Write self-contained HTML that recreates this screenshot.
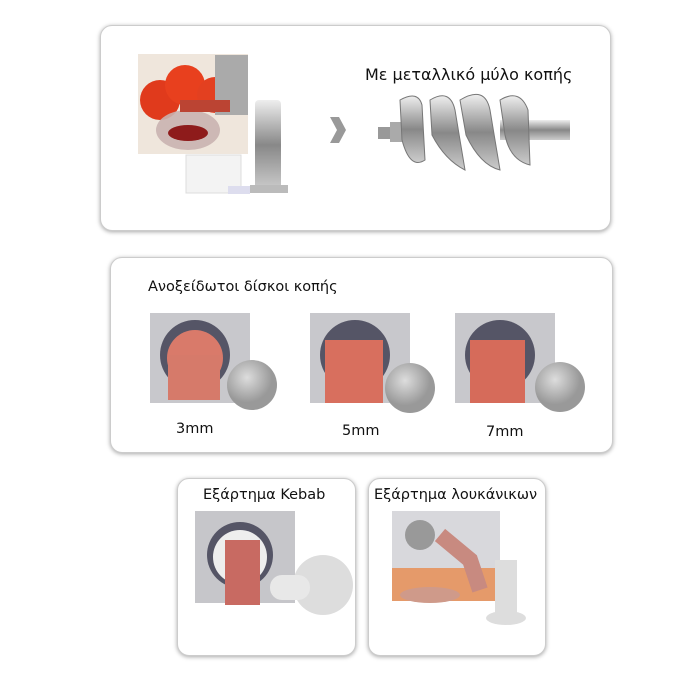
<!DOCTYPE html>
<html><head><meta charset="utf-8"><style>
body{margin:0;width:700px;height:700px;background:#fff;position:relative;overflow:hidden;font-family:"DejaVu Sans","Liberation Sans",sans-serif;color:#111}
.p{position:absolute;background:#fff;border:1px solid #ccc;border-radius:12px;box-shadow:0 1px 4px rgba(0,0,0,.35)}
.t{position:absolute;font-size:14.5px;white-space:nowrap}
svg{position:absolute;left:0;top:0}
</style></head><body>
<div class="p" style="left:100px;top:25px;width:509px;height:204px"></div>
<div class="p" style="left:110px;top:257px;width:501px;height:194px"></div>
<div class="p" style="left:177px;top:478px;width:177px;height:176px"></div>
<div class="p" style="left:368px;top:478px;width:176px;height:176px"></div>
<svg width="700" height="700">
<defs>
<radialGradient id="pl" cx="40%" cy="35%"><stop offset="0" stop-color="#ddd"/><stop offset="1" stop-color="#999"/></radialGradient>
<linearGradient id="st" x1="0" x2="0" y1="0" y2="1"><stop offset="0" stop-color="#eee"/><stop offset=".5" stop-color="#888"/><stop offset="1" stop-color="#ccc"/></linearGradient>
</defs>
<!-- tomato photo -->
<rect x="138" y="54" width="110" height="100" fill="#efe6dc"/>
<circle cx="160" cy="100" r="20" fill="#e03a1c"/><circle cx="185" cy="85" r="20" fill="#e8401e"/><circle cx="215" cy="95" r="18" fill="#e34020"/>
<rect x="215" y="55" width="33" height="60" fill="#aaa"/>
<ellipse cx="188" cy="130" rx="32" ry="20" fill="#c9b2b0" opacity=".9"/>
<ellipse cx="188" cy="133" rx="20" ry="8" fill="#8e1b1b"/>
<rect x="180" y="100" width="50" height="12" fill="#b43" />
<rect x="186" y="155" width="55" height="38" fill="#f3f3f3" stroke="#ddd"/>
<rect x="255" y="100" width="26" height="90" rx="4" fill="url(#st)"/>
<rect x="250" y="185" width="38" height="8" fill="#bbb"/>
<rect x="228" y="186" width="22" height="8" fill="#dde"/>
<!-- chevron -->
<polygon points="330,117 339,117 346,130 339,143 330,143 337,130" fill="#999"/>
<!-- auger -->
<rect x="378" y="127" width="20" height="12" fill="#999"/>
<rect x="390" y="122" width="22" height="20" fill="#aaa"/>
<rect x="500" y="120" width="70" height="20" fill="url(#st)"/>
<g fill="url(#st)" stroke="#777" stroke-width="1">
<path d="M400,100 Q418,90 422,105 L425,160 Q410,170 402,140Z"/>
<path d="M430,100 Q450,88 455,110 L465,170 Q445,160 432,135Z"/>
<path d="M460,100 Q485,85 490,110 L500,170 Q480,165 466,135Z"/>
<path d="M500,100 Q520,88 528,110 L530,165 Q510,160 505,135Z"/>
</g>
<!-- grinder photos -->
<g id="g">
<rect x="150" y="313" width="100" height="90" fill="#c8c8cc"/>
<circle cx="195" cy="355" r="35" fill="#556" /><circle cx="195" cy="358" r="28" fill="#d97a6a"/>
<rect x="168" y="355" width="52" height="45" fill="#d67a6a"/>
<circle cx="252" cy="385" r="25" fill="url(#pl)"/>
</g>
<rect x="310" y="313" width="100" height="90" fill="#c8c8cc"/>
<circle cx="355" cy="355" r="35" fill="#556"/><rect x="325" y="340" width="58" height="63" fill="#d86f5e"/>
<circle cx="410" cy="388" r="25" fill="url(#pl)"/>
<rect x="455" y="313" width="100" height="90" fill="#c8c8cc"/>
<circle cx="500" cy="355" r="35" fill="#556"/><rect x="470" y="340" width="55" height="63" fill="#d66b5a"/>
<circle cx="560" cy="387" r="25" fill="url(#pl)"/>
<!-- kebab -->
<rect x="195" y="511" width="100" height="92" fill="#c6c6ca"/>
<circle cx="240" cy="555" r="33" fill="#556"/><circle cx="240" cy="557" r="27" fill="#eee"/>
<rect x="225" y="540" width="35" height="65" fill="#c86a62"/>
<circle cx="323" cy="585" r="30" fill="#ddd"/><rect x="270" y="575" width="40" height="25" rx="12" fill="#e8e8e8"/>
<!-- sausage -->
<rect x="392" y="511" width="108" height="90" fill="#d8d8dc"/>
<rect x="392" y="568" width="108" height="33" fill="#e59a6a"/>
<circle cx="420" cy="535" r="15" fill="#999"/>
<path d="M440,535 L470,560 L480,590" stroke="#c88a80" stroke-width="16" fill="none"/>
<ellipse cx="430" cy="595" rx="30" ry="8" fill="#cf9a8a"/>
<rect x="495" y="560" width="22" height="55" fill="#ddd"/>
<ellipse cx="506" cy="618" rx="20" ry="7" fill="#ddd"/>
</svg>
<div class="t" style="left:365px;top:65px;font-size:16px">Με μεταλλικό μύλο κοπής</div>
<div class="t" style="left:148px;top:279px">Ανοξείδωτοι δίσκοι κοπής</div>
<div class="t" style="left:176px;top:421px">3mm</div>
<div class="t" style="left:342px;top:423px">5mm</div>
<div class="t" style="left:486px;top:424px">7mm</div>
<div class="t" style="left:203px;top:487px">Εξάρτημα Kebab</div>
<div class="t" style="left:374px;top:487px">Εξάρτημα λουκάνικων</div>
</body></html>
